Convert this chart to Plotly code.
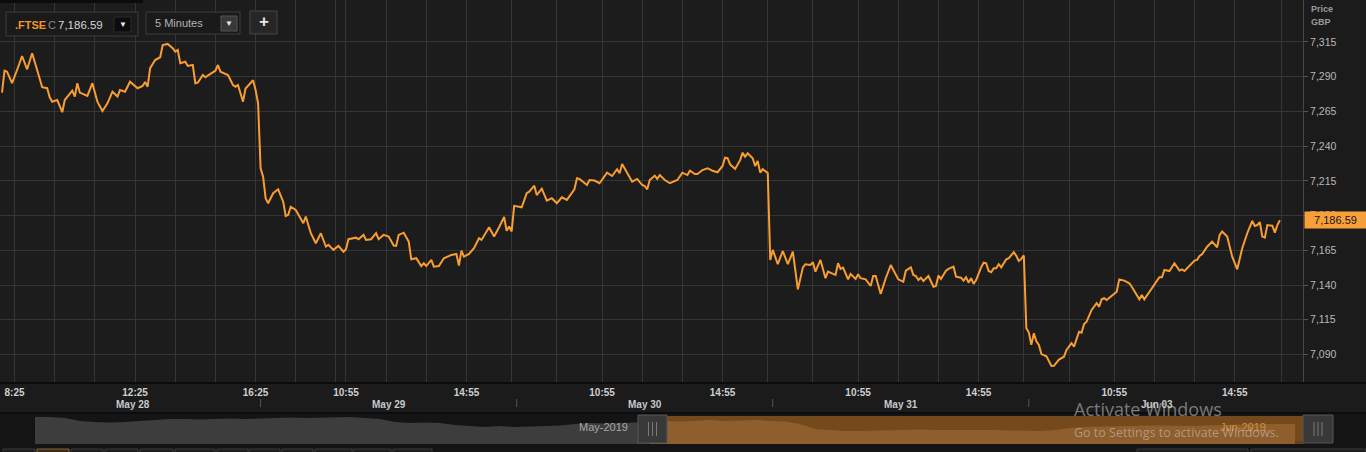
import plotly.graph_objects as go

W, H = 1366, 452

# ---------------- data: FTSE 100, 5-minute closes ----------------
days = ["2019-05-28", "2019-05-29", "2019-05-30", "2019-05-31", "2019-06-03"]
day_labels = ["May 28", "May 29", "May 30", "May 31", "Jun 03"]

may28_times = ["08:00","08:05","08:10","08:20","08:30","08:40","08:50","09:00","09:10","09:20","09:30","09:35","09:40","09:50",
               "10:00","10:05","10:20","10:25","10:30","10:35","10:50","11:00","11:10","11:20","11:30","11:40","11:50","11:55",
               "12:05","12:15","12:30","12:40","12:45","12:50","12:55","13:05","13:15","13:20","13:30","13:40","13:45","13:50",
               "13:55","14:05","14:10","14:20","14:25","14:30","14:40","14:45","14:55","15:05","15:10","15:15","15:30","15:35",
               "15:40","15:45","15:50","16:00","16:05","16:20","16:25"]
may28_prices = [7278.5,7294.3,7293.6,7285.3,7294.8,7304.9,7295.3,7306.9,7294.8,7282.4,7281.7,7275.2,7272.0,7273.2,
                7264.4,7273.2,7280.0,7275.7,7285.3,7278.5,7276.1,7285.3,7272.0,7265.3,7270.8,7279.2,7275.7,7280.4,
                7279.2,7286.4,7281.7,7283.3,7286.2,7282.8,7296.1,7302.0,7304.0,7312.8,7313.6,7310.5,7308.0,7309.2,
                7299.7,7300.8,7297.7,7298.4,7285.3,7285.7,7291.2,7289.6,7292.0,7294.3,7298.4,7293.6,7291.2,7287.0,
                7284.0,7282.8,7284.0,7272.0,7281.5,7287.4,7280.4]

may29_times = ["08:00","08:05","08:10","08:15","08:20","08:30","08:40","08:50","08:55","09:00","09:05","09:15","09:30","09:35",
               "09:45","09:55","10:05","10:15","10:20","10:30","10:40","10:50","10:55","11:00","11:15","11:20","11:30","11:35",
               "11:45","11:55","12:00","12:10","12:20","12:30","12:35","12:40","12:50","13:00","13:05","13:15","13:25","13:30",
               "13:35","13:45","13:50","14:00","14:10","14:25","14:35","14:40","14:45","14:50","15:00","15:10","15:20","15:25",
               "15:40","15:50","16:00","16:10","16:15","16:20","16:25"]
may29_prices = [7270.8,7224.1,7218.0,7202.5,7198.9,7206.1,7208.9,7200.0,7189.7,7190.5,7196.4,7194.0,7184.5,7189.3,
                7177.3,7170.1,7177.3,7167.7,7168.9,7165.3,7168.2,7164.0,7165.8,7173.0,7174.1,7173.0,7176.1,7172.5,
                7173.0,7177.3,7173.0,7176.1,7174.9,7168.4,7168.2,7176.1,7177.7,7171.2,7158.6,7159.3,7153.7,7155.7,
                7153.7,7158.1,7153.2,7153.7,7159.3,7161.7,7162.4,7154.0,7164.8,7160.4,7162.4,7166.5,7173.7,7172.5,
                7181.6,7174.9,7181.6,7189.0,7179.0,7182.1,7178.6]

may30_times = ["08:00","08:15","08:25","08:30","08:40","08:45","08:55","09:05","09:15","09:25","09:35","09:45","10:00","10:05",
               "10:10","10:25","10:30","10:40","10:50","11:05","11:15","11:25","11:30","11:35","11:45","11:55","12:05","12:15",
               "12:20","12:25","12:30","12:40","12:45","12:50","13:00","13:10","13:25","13:35","13:45","13:50","14:00","14:05",
               "14:15","14:25","14:35","14:45","14:55","15:00","15:05","15:10","15:20","15:30","15:35","15:40","15:45","15:55",
               "16:00","16:05","16:10","16:15","16:25"]
may30_prices = [7197.0,7196.0,7206.1,7207.2,7211.5,7204.8,7209.4,7200.7,7202.5,7198.9,7203.2,7201.3,7208.9,7216.9,
                7216.4,7212.0,7215.6,7215.2,7213.3,7220.9,7218.5,7223.4,7220.5,7227.2,7220.9,7214.4,7216.4,7212.0,
                7211.3,7208.9,7215.6,7218.7,7216.4,7219.2,7215.6,7213.3,7215.6,7220.9,7219.2,7222.3,7219.9,7219.9,
                7222.8,7224.1,7222.3,7221.2,7225.7,7231.7,7231.3,7226.9,7223.6,7229.9,7235.3,7232.4,7234.8,7231.3,
                7225.7,7229.3,7220.9,7223.4,7220.6]

may31_times = ["08:00","08:05","08:15","08:25","08:35","08:45","08:55","09:05","09:10","09:20","09:25","09:30","09:40","09:50",
               "09:55","10:05","10:10","10:15","10:20","10:25","10:35","10:40","10:50","10:55","11:00","11:10","11:20","11:25",
               "11:30","11:40","11:50","12:00","12:15","12:25","12:30","12:40","12:45","12:50","12:55","13:00","13:05","13:15",
               "13:25","13:30","13:35","13:40","13:50","13:55","14:05","14:10","14:20","14:25","14:30","14:35","14:40","14:45",
               "14:50","15:00","15:05","15:10","15:15","15:20","15:25","15:30","15:35","15:40","15:50","15:55","16:05","16:10",
               "16:15","16:20","16:25"]
may31_prices = [7158.1,7165.3,7155.0,7164.5,7155.0,7164.0,7136.9,7152.7,7155.0,7154.4,7156.4,7149.6,7158.1,7144.9,
                7149.6,7148.0,7147.3,7155.7,7151.6,7152.5,7144.1,7148.0,7144.4,7147.8,7144.9,7144.1,7139.3,7146.5,
                7146.5,7133.6,7144.9,7154.4,7144.1,7142.4,7150.3,7152.7,7147.3,7146.5,7143.6,7145.3,7142.9,7146.5,
                7138.8,7139.3,7146.8,7144.4,7150.3,7151.6,7153.2,7146.0,7145.3,7143.2,7145.6,7141.7,7144.9,7140.8,
                7143.6,7152.7,7156.1,7155.7,7150.1,7149.2,7152.0,7152.0,7155.0,7152.7,7158.5,7159.3,7163.6,7161.0,
                7157.3,7158.8,7161.3]

jun03_times = ["08:00","08:05","08:10","08:15","08:20","08:25","08:30","08:40","08:50","08:55","09:05","09:15","09:20","09:30",
               "09:35","09:45","09:50","09:55","10:00","10:10","10:20","10:25","10:30","10:35","10:40","10:50","11:00","11:05",
               "11:15","11:25","11:30","11:45","11:50","11:55","12:05","12:15","12:25","12:30","12:35","12:45","12:55","13:05",
               "13:10","13:15","13:25","13:35","13:40","13:45","13:50","14:00","14:10","14:20","14:25","14:30","14:40","14:50",
               "15:00","15:10","15:20","15:30","15:35","15:40","15:45","15:50","15:55","16:00","16:10","16:15","16:20","16:25"]
jun03_prices = [7108.9,7105.8,7096.9,7105.3,7099.5,7096.9,7090.3,7088.7,7081.7,7081.8,7086.3,7088.4,7093.3,7098.1,
                7095.7,7106.4,7105.7,7112.0,7113.6,7122.1,7126.9,7124.5,7129.7,7130.5,7129.2,7132.1,7135.2,7144.1,
                7143.2,7141.3,7138.8,7129.7,7132.9,7129.7,7135.2,7140.1,7145.6,7145.6,7150.9,7150.1,7155.7,7150.4,
                7151.3,7150.1,7153.7,7157.6,7158.1,7161.0,7162.2,7167.6,7171.2,7167.2,7176.1,7178.5,7174.9,7160.4,
                7151.3,7166.5,7177.3,7186.1,7182.5,7183.2,7185.2,7174.9,7174.1,7183.2,7182.7,7177.7,7183.2,7186.59]

last_price = 7186.59

# x-axis ticks (gridlines); only some are labelled
tick_times = ["2019-05-28 08:25","2019-05-28 09:45","2019-05-28 11:05","2019-05-28 12:25","2019-05-28 13:45","2019-05-28 15:05","2019-05-28 16:25",
              "2019-05-29 09:15","2019-05-29 10:35","2019-05-29 10:55","2019-05-29 12:15","2019-05-29 13:35","2019-05-29 14:55","2019-05-29 16:25",
              "2019-05-30 09:25","2019-05-30 10:55","2019-05-30 12:15","2019-05-30 13:35","2019-05-30 14:55","2019-05-30 16:25",
              "2019-05-31 09:25","2019-05-31 10:55","2019-05-31 12:15","2019-05-31 13:35","2019-05-31 14:55","2019-05-31 16:25",
              "2019-06-03 09:25","2019-06-03 10:55","2019-06-03 12:15","2019-06-03 13:35","2019-06-03 14:55","2019-06-03 16:29"]
tick_texts = ["8:25","","","12:25","","","16:25",
              "","","10:55","","","14:55","",
              "","10:55","","","14:55","",
              "","10:55","","","14:55","",
              "","10:55","","","14:55",""]

y_tick_values = [7090, 7115, 7140, 7165, 7190, 7215, 7240, 7265, 7290, 7315]

# navigator (mini overview) heights
nav_values = [27,27,26,23,22,21.5,22,23,24,25,25,24.5,25,25.5,25,25.5,26,26.5,26,26.5,27,27,26,25,22,21,21.5,21,19,18,
              17,18,17,17.5,18,18.5,20,21,20.5,21,21,22,23,22.5,23,24,23,23.5,24,23,22.5,20,15,14,13,13,13.5,14,14.5,14.5,
              14,14,14,14.5,14,13.5,13,13,14,16,17,17.5,18,18,18.5,18.5,18,18,18.5,19,19,19.5,20,20,20]
nav_split = 41

# ---------------- build ----------------
xs, ys = [], []
for d, ts, ps in zip(days,
                     [may28_times, may29_times, may30_times, may31_times, jun03_times],
                     [may28_prices, may29_prices, may30_prices, may31_prices, jun03_prices]):
    xs += [f"{d} {t}" for t in ts]
    ys += ps

nav_x = list(range(len(nav_values)))


def px(v):
    return v / W


def py(v):
    return 1 - v / H


ORANGE = "#f99d33"
fig = go.Figure()
fig.add_trace(go.Scatter(x=xs, y=ys, mode="lines", line=dict(color=ORANGE, width=2),
                         xaxis="x", yaxis="y", hoverinfo="skip"))
fig.add_trace(go.Scatter(x=nav_x[:nav_split + 1], y=nav_values[:nav_split + 1], mode="lines",
                         line=dict(width=0, color="#3d3d3d"), fill="tozeroy", fillcolor="#3d3d3d",
                         xaxis="x2", yaxis="y2", hoverinfo="skip"))
fig.add_trace(go.Scatter(x=nav_x[nav_split:], y=nav_values[nav_split:], mode="lines",
                         line=dict(width=0, color="#8e5e2d"), fill="tozeroy", fillcolor="#8e5e2d",
                         xaxis="x2", yaxis="y2", hoverinfo="skip"))

shapes = []


def rect(x0, y0, x1, y1, fill, line=None, lw=1, layer="above", xref="paper"):
    shapes.append(dict(type="rect", xref=xref, yref="paper",
                       x0=px(x0) if xref == "paper" else x0, x1=px(x1) if xref == "paper" else x1,
                       y0=py(y1), y1=py(y0), fillcolor=fill,
                       line=dict(color=line or fill, width=lw if line else 0), layer=layer))


def hline(x0, x1, y, color, w=1):
    shapes.append(dict(type="line", xref="paper", yref="paper", x0=px(x0), x1=px(x1), y0=py(y), y1=py(y),
                       line=dict(color=color, width=w), layer="above"))


def vline(x, y0, y1, color, w=1, xref="paper"):
    shapes.append(dict(type="line", xref=xref, yref="paper", x0=px(x) if xref == "paper" else x,
                       x1=px(x) if xref == "paper" else x, y0=py(y0), y1=py(y1),
                       line=dict(color=color, width=w), layer="above"))


# navigator background & selection
rect(0, 414, W, 452, "#141414", layer="below")
rect(667, 416, 1304, 444, "#744a1c", layer="below")
rect(667, 441, 1304, 444, "#6a4016", layer="below")
# top dark strip
rect(0, 0, 143, 3, "#0b0b0b")
# separators of axis area
hline(0, W, 383, "#0c0c0c", 2)
hline(0, W, 413, "#0c0c0c", 2)
# day separator marks in the time axis
for d in days[1:]:
    vline(f"{d} 08:05", 399, 407, "#555555", 1, xref="x")
# navigator handles
for hx0, hx1 in [(638, 667), (1303, 1333)]:
    rect(hx0, 415, hx1, 443, "#383838", "#565656", 1)
    cx = (hx0 + hx1) / 2
    for dx in (-4, 0, 4):
        vline(cx + dx, 422, 436, "#7a7a7a", 1)
# header controls
rect(6, 12, 138, 36, "#1a1a1a", "#3c3c3c", 1)
rect(114, 17, 131, 32, "#0c0c0c", "#2a2a2a", 1)
rect(146, 12, 240, 34, "#1a1a1a", "#3c3c3c", 1)
rect(221, 16, 237, 31, "#383838", "#555555", 1)
rect(250, 11, 277, 34, "#262626", "#474747", 1)
# bottom toolbar strip
for bx0, bx1 in [(3, 35), (71, 103), (105, 138), (140, 173), (175, 215), (217, 248), (249, 280), (282, 313),
                 (315, 352), (353, 391), (393, 432), (1137, 1248), (1251, 1366)]:
    rect(bx0, 449, bx1, 458, "#1e1e1e", "#3a3a3a", 1)
rect(37, 449, 69, 458, "#3a2c1a", "#8a6434", 1)

ann = []


def text(x, y, s, size, color, xanchor="left", weight="normal", family=None, yref="paper"):
    d = dict(x=px(x), y=py(y) if yref == "paper" else y, xref="paper", yref=yref, text=s, showarrow=False,
             xanchor=xanchor, yanchor="middle", font=dict(size=size, color=color, weight=weight))
    if family:
        d["font"]["family"] = family
    ann.append(d)


text(13, 24.5, ".FTSE", 11, "#f0952e", weight="bold")
text(46, 24.5, "C", 11, "#8c8c8c")
text(56, 24.5, "7,186.59", 11.5, "#d6d6d6")
text(122.5, 24.5, "▼", 8, "#e8e8e8", xanchor="center")
text(153, 23, "5 Minutes", 11, "#b3b3b3")
text(229, 23.5, "▼", 8, "#e8e8e8", xanchor="center")
text(263.5, 22, "+", 17, "#e6e6e6", xanchor="center", weight="bold")
text(1309, 8.5, "Price", 9, "#9b9b9b", weight="bold")
text(1309, 22.5, "GBP", 9, "#9b9b9b", weight="bold")
for d, lab in zip(days, day_labels):
    ann.append(dict(x=f"{d} 12:20", y=py(404), xref="x", yref="paper", text=lab, showarrow=False,
                    xanchor="center", yanchor="middle", font=dict(size=10, color="#c9c9c9", weight="bold")))
text(630, 427, "May-2019", 11, "#a6a6a6", xanchor="right")
text(1218, 427, "Jun-2019", 11, "#d08e42")
# last price marker on the axis
ann.append(dict(x=px(1304), y=last_price, xref="paper", yref="y", text=f"{last_price:,.2f}", showarrow=False,
                xanchor="left", yanchor="middle", bgcolor="#f7a03a", width=61, height=16, borderpad=0,
                font=dict(size=11, color="#161616")))
# OS watermark visible in the screenshot
text(1072, 409, "Activate Windows", 18, "rgba(205,205,205,0.55)", family="Open Sans")
text(1072, 432, "Go to Settings to activate Windows.", 12.5, "rgba(205,205,205,0.55)", family="Open Sans")

fig.update_layout(
    width=W, height=H, margin=dict(l=0, r=0, t=0, b=0),
    paper_bgcolor="#1b1b1b", plot_bgcolor="#1c1c1c", showlegend=False,
    font=dict(family="Liberation Sans, Arial, sans-serif"),
    xaxis=dict(type="date", domain=[0, px(1303)], anchor="y",
               range=["2019-05-27 16:26", "2019-06-04 08:41"],
               rangebreaks=[dict(bounds=["sat", "mon"]), dict(bounds=[16.5, 8], pattern="hour")],
               tickmode="array", tickvals=tick_times, ticktext=tick_texts, ticklabelstandoff=3,
               showgrid=True, gridcolor="#353535", gridwidth=1, ticks="", zeroline=False, showline=False,
               tickfont=dict(size=10, color="#cfcfcf", weight="bold"), automargin=False, fixedrange=True),
    yaxis=dict(domain=[1 - 382 / H, 1], anchor="x", side="right", range=[7070.2, 7345.2],
               tickmode="array", tickvals=y_tick_values, tickformat=",d",
               ticks="outside", ticklen=4, tickcolor="#555555", showline=True, linecolor="#474747",
               showgrid=True, gridcolor="#353535", zeroline=False,
               tickfont=dict(size=10.5, color="#b8b8b8"), automargin=False, fixedrange=True),
    xaxis2=dict(domain=[px(35), px(1304)], anchor="y2", range=[0, 84.6], visible=False, fixedrange=True),
    yaxis2=dict(domain=[py(444), py(416)], anchor="x2", range=[0, 28], visible=False, fixedrange=True),
    shapes=shapes, annotations=ann,
)

fig.write_html("out.html", config={"displayModeBar": False},
               post_script="document.body.style.margin='0';document.body.style.overflow='hidden';")
